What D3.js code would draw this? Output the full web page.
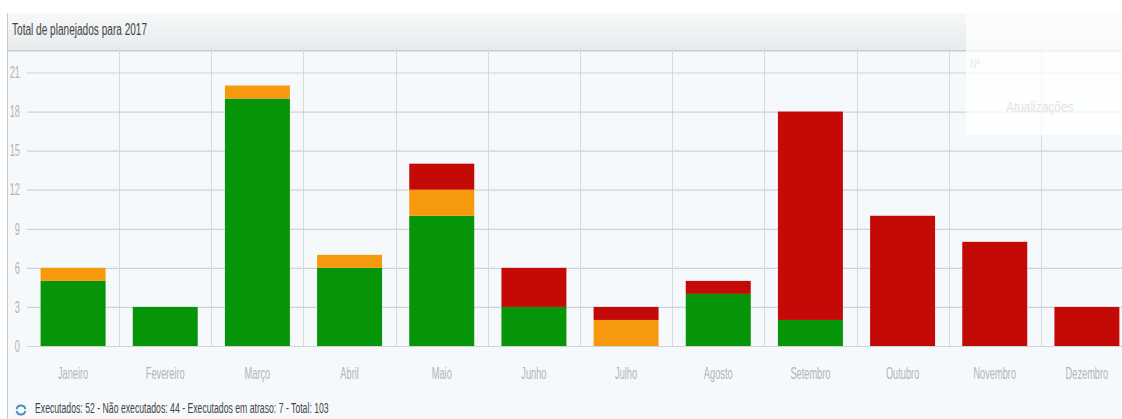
<!DOCTYPE html>
<html>
<head>
<meta charset="utf-8">
<script src="https://cdn.jsdelivr.net/npm/d3@7"></script>
<style>
  html, body { margin: 0; padding: 0; background: #fff; }
  svg { display: block; }
  text { font-family: "Liberation Sans", sans-serif; }
</style>
</head>
<body>
<div id="chart"></div>
<script>
// values
var months = ["Janeiro", "Fevereiro", "Março", "Abril", "Maio", "Junho", "Julho", "Agosto", "Setembro", "Outubro", "Novembro", "Dezembro"];
var executados = [5, 3, 19, 6, 10, 3, 0, 4, 2, 0, 0, 0];
var emAtraso = [1, 0, 1, 1, 2, 0, 2, 0, 0, 0, 0, 0];
var naoExecutados = [0, 0, 0, 0, 2, 3, 1, 1, 16, 10, 8, 3];
var yTicks = [0, 3, 6, 9, 12, 15, 18, 21];
var titulo = "Total de planejados para 2017";
var rodape = "Executados: 52 - Não executados: 44 - Executados em atraso: 7 - Total: 103";

var seriesKeys = ["executados", "emAtraso", "naoExecutados"];
var colors = {executados: "#069409", emAtraso: "#f7990c", naoExecutados: "#c30a07"};

var width = 1122, height = 419;

var rows = months.map(function(m, i) {
    return {month: m, executados: executados[i], emAtraso: emAtraso[i], naoExecutados: naoExecutados[i]};
});

// the source font is a condensed one, so squeeze the glyphs horizontally
function condense(sel, factor) {
    sel.each(function() {
        var len = this.getComputedTextLength();
        d3.select(this).attr("textLength", len * factor).attr("lengthAdjust", "spacingAndGlyphs");
    });
}

var svg = d3.select("#chart").append("svg")
    .attr("width", width)
    .attr("height", height);

var defs = svg.append("defs");
var headGrad = defs.append("linearGradient").attr("id", "headGrad")
    .attr("x1", 0).attr("y1", 0).attr("x2", 0).attr("y2", 1);
headGrad.append("stop").attr("offset", "0%").attr("stop-color", "#f6f8f9");
headGrad.append("stop").attr("offset", "100%").attr("stop-color", "#e8ebed");

// panel background
svg.append("rect").attr("x", 7).attr("y", 13).attr("width", width - 7).attr("height", height - 13).attr("fill", "#f6f9fc");
svg.append("rect").attr("x", 7).attr("y", 13).attr("width", 1).attr("height", height - 13).attr("fill", "#c9cccf");
svg.append("rect").attr("x", 8).attr("y", 13).attr("width", width - 8).attr("height", 38).attr("fill", "url(#headGrad)");
svg.append("rect").attr("x", 8).attr("y", 50).attr("width", width - 8).attr("height", 1.5).attr("fill", "#c6cacd");

svg.append("text")
    .attr("x", 12).attr("y", 35)
    .attr("font-size", 16).attr("fill", "#444")
    .text(titulo)
    .call(condense, 0.63);

// scales
var x = d3.scaleBand().domain(months).range([27, 1133]).paddingInner(0.295).paddingOuter(0.1475);
var step = x.step();
var y = d3.scaleLinear().domain([0, 21]).range([346, 72.5]);

// vertical grid between the months
svg.append("g").selectAll("line")
    .data(months.slice(1))
    .enter().append("line")
    .attr("x1", function(d) { return Math.round(x(d) - x.paddingOuter() * step) + 0.5; })
    .attr("x2", function(d) { return Math.round(x(d) - x.paddingOuter() * step) + 0.5; })
    .attr("y1", 48).attr("y2", 346)
    .attr("stroke", "#d6dadd");

// y axis
var yAxis = d3.axisLeft(y).tickValues(yTicks).tickSize(-(width - 27)).tickPadding(7);
var yG = svg.append("g").attr("transform", "translate(27,0)").call(yAxis);
yG.select(".domain").remove();
yG.selectAll("line").attr("stroke", "#cfd3d6").attr("stroke-width", 1.2);
yG.selectAll("text").attr("font-size", 16.5).attr("fill", "#b0b4b7").style("font-family", null).call(condense, 0.56);

// stacked bars
var stack = d3.stack().keys(seriesKeys)(rows);
svg.append("g").selectAll("g")
    .data(stack)
    .enter().append("g")
    .attr("fill", function(d) { return colors[d.key]; })
    .selectAll("rect")
    .data(function(d) { return d; })
    .enter().append("rect")
    .attr("x", function(d) { return x(d.data.month); })
    .attr("y", function(d) { return y(d[1]); })
    .attr("width", x.bandwidth())
    .attr("height", function(d) { return y(d[0]) - y(d[1]); });

// x axis
var xAxis = d3.axisBottom(x).tickSize(0).tickPadding(21);
var xG = svg.append("g").attr("transform", "translate(0,346)").call(xAxis);
xG.select(".domain").remove();
xG.selectAll("text").attr("font-size", 16.5).attr("fill", "#b0b4b7").style("font-family", null).call(condense, 0.56);

// faint panel sitting over the top right corner
svg.append("rect").attr("x", 966).attr("y", 13).attr("width", width - 966).attr("height", 122).attr("fill", "#fff").attr("opacity", 0.72);
svg.append("text").attr("x", 970).attr("y", 68).attr("font-size", 13).attr("fill", "#e6e8ea").text("Nº").call(condense, 0.7);
svg.append("text").attr("x", 1006).attr("y", 112).attr("font-size", 14).attr("fill", "#e2e4e6").text("Atualizações").call(condense, 0.85);

// footer: refresh icon and totals
var icon = svg.append("g").attr("transform", "translate(21,410)")
    .attr("fill", "none").attr("stroke", "#4a8db5").attr("stroke-width", 1.8);
icon.append("path").attr("d", d3.arc()({innerRadius: 4.5, outerRadius: 4.5, startAngle: -1.4, endAngle: 1.4}));
icon.append("path").attr("d", d3.arc()({innerRadius: 4.5, outerRadius: 4.5, startAngle: 1.8, endAngle: 4.5}));
svg.append("text")
    .attr("x", 35).attr("y", 413)
    .attr("font-size", 15.5).attr("fill", "#444")
    .text(rodape)
    .call(condense, 0.56);
</script>
</body>
</html>
